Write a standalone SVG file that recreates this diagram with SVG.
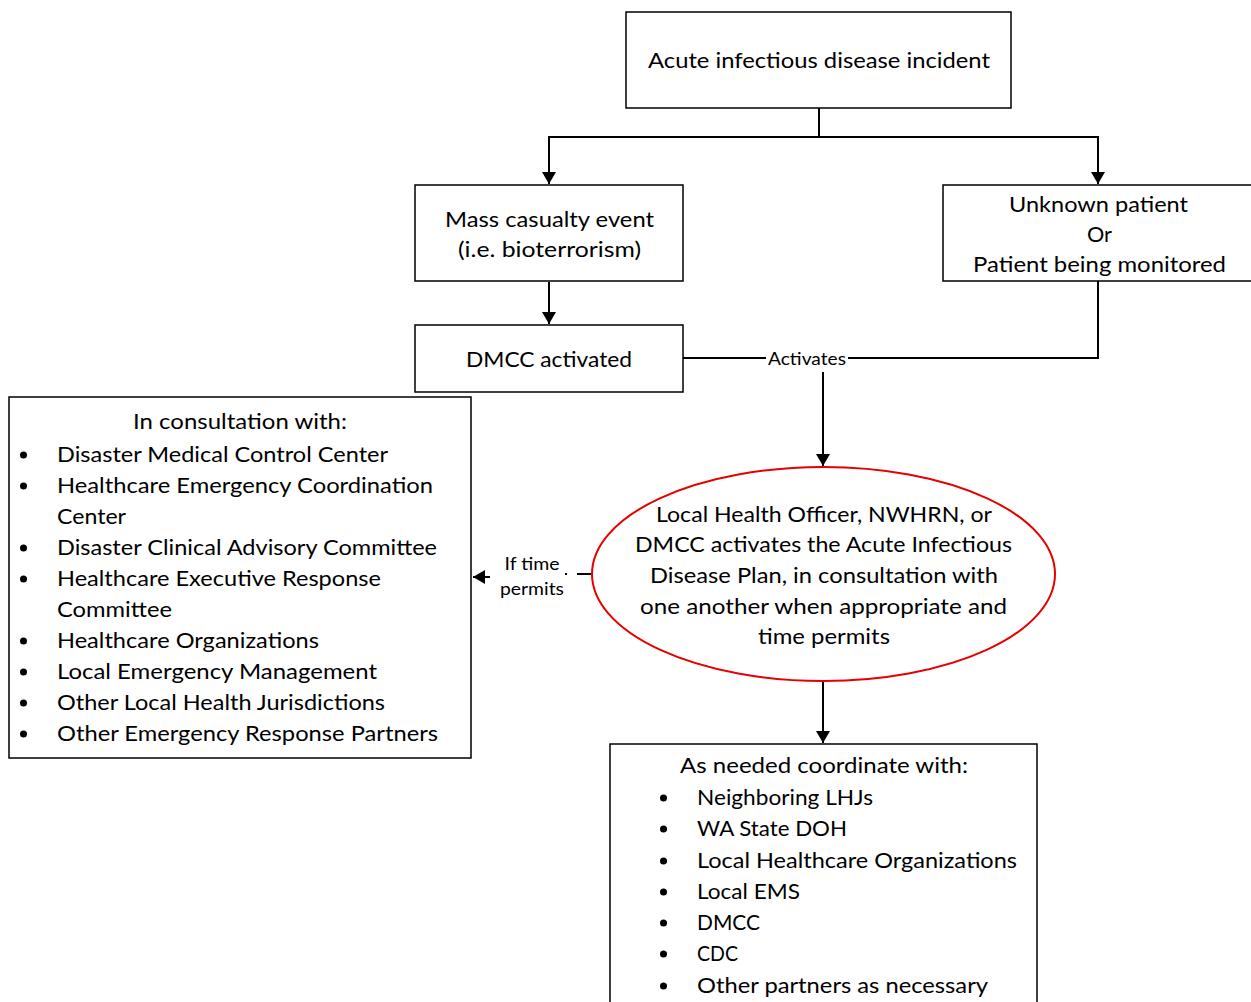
<svg xmlns="http://www.w3.org/2000/svg" width="1251" height="1002" viewBox="0 0 1251 1002">
<defs>
<marker id="arr" viewBox="0 0 12 14" refX="12" refY="7" markerWidth="12" markerHeight="14" markerUnits="userSpaceOnUse" orient="auto">
<path d="M0,0 L12,7 L0,14 z" fill="#000"/>
</marker>
</defs>
<style>
.box{fill:#fff;stroke:#000;stroke-width:1.5}
.ell{fill:#fff;stroke:#e60000;stroke-width:2}
.t{font-family:Lato,"Liberation Sans",sans-serif;font-size:22px;fill:#000}
.c{text-anchor:middle}
.s{font-family:Lato,"Liberation Sans",sans-serif;font-size:17px;fill:#000}
.ln{fill:none;stroke:#000;stroke-width:2}
.ar{fill:none;stroke:#000;stroke-width:2;marker-end:url(#arr)}
.bul{fill:#000}
</style>
<rect width="1251" height="1002" fill="#fff"/>

<g id="connectors">
<path class="ln" d="M819,108 V137"/>
<path class="ar" d="M819,137 H549 V184"/>
<path class="ar" d="M819,137 H1098 V184"/>
<path class="ar" d="M549,282 V324"/>
<path class="ln" d="M683,358 H1098 V281"/>
<path class="ar" d="M823,372 V466"/>
<path class="ln" d="M577,574 H592"/>
<path class="ln" d="M565,574 H567" stroke-width="1.5"/>
<path class="ar" d="M490,577 H473"/>
<path class="ar" d="M823,681 V743"/>
<rect x="766" y="348" width="82" height="20" fill="#fff"/>
<text class="s" x="768" y="365" textLength="78" lengthAdjust="spacingAndGlyphs">Activates</text>
<text class="s c" x="532" y="570" textLength="55" lengthAdjust="spacingAndGlyphs">If time</text>
<text class="s c" x="532" y="595" textLength="64" lengthAdjust="spacingAndGlyphs">permits</text>
</g>

<g id="node-incident">
<rect class="box" x="626" y="12" width="385" height="96"/>
<text class="t" x="648" y="68" textLength="342" lengthAdjust="spacingAndGlyphs">Acute infectious disease incident</text>
</g>

<g id="node-mass">
<rect class="box" x="415" y="185" width="268" height="96"/>
<text class="t" x="445" y="227" textLength="209" lengthAdjust="spacingAndGlyphs">Mass casualty event</text>
<text class="t" x="458" y="257" textLength="183" lengthAdjust="spacingAndGlyphs">(i.e. bioterrorism)</text>
</g>

<g id="node-unknown">
<rect class="box" x="943" y="185" width="320" height="96"/>
<text class="t" x="1009" y="212" textLength="179" lengthAdjust="spacingAndGlyphs">Unknown patient</text>
<text class="t" x="1087" y="242" textLength="25" lengthAdjust="spacingAndGlyphs">Or</text>
<text class="t" x="973" y="272" textLength="253" lengthAdjust="spacingAndGlyphs">Patient being monitored</text>
</g>

<g id="node-dmcc">
<rect class="box" x="415" y="325" width="268" height="67"/>
<text class="t" x="466" y="367" textLength="166" lengthAdjust="spacingAndGlyphs">DMCC activated</text>
</g>

<g id="node-plan">
<ellipse class="ell" cx="823.5" cy="574" rx="231.5" ry="107"/>
<text class="t" x="656" y="522" textLength="336" lengthAdjust="spacingAndGlyphs">Local Health Officer, NWHRN, or</text>
<text class="t" x="635" y="552" textLength="377" lengthAdjust="spacingAndGlyphs">DMCC activates the Acute Infectious</text>
<text class="t" x="650" y="583" textLength="348" lengthAdjust="spacingAndGlyphs">Disease Plan, in consultation with</text>
<text class="t" x="640" y="614" textLength="367" lengthAdjust="spacingAndGlyphs">one another when appropriate and</text>
<text class="t" x="758" y="644" textLength="132" lengthAdjust="spacingAndGlyphs">time permits</text>
</g>

<g id="node-consult">
<rect class="box" x="9" y="397" width="462" height="361"/>
<text class="t" x="133" y="429" textLength="214" lengthAdjust="spacingAndGlyphs">In consultation with:</text>
<g class="bul">
<circle cx="23.5" cy="455" r="3.5"/>
<circle cx="23.5" cy="486" r="3.5"/>
<circle cx="23.5" cy="548" r="3.5"/>
<circle cx="23.5" cy="579" r="3.5"/>
<circle cx="23.5" cy="641" r="3.5"/>
<circle cx="23.5" cy="672" r="3.5"/>
<circle cx="23.5" cy="703" r="3.5"/>
<circle cx="23.5" cy="734" r="3.5"/>
</g>
<text class="t" x="57" y="462" textLength="331" lengthAdjust="spacingAndGlyphs">Disaster Medical Control Center</text>
<text class="t" x="57" y="493" textLength="376" lengthAdjust="spacingAndGlyphs">Healthcare Emergency Coordination</text>
<text class="t" x="57" y="524" textLength="69" lengthAdjust="spacingAndGlyphs">Center</text>
<text class="t" x="57" y="555" textLength="380" lengthAdjust="spacingAndGlyphs">Disaster Clinical Advisory Committee</text>
<text class="t" x="57" y="586" textLength="324" lengthAdjust="spacingAndGlyphs">Healthcare Executive Response</text>
<text class="t" x="57" y="617" textLength="115" lengthAdjust="spacingAndGlyphs">Committee</text>
<text class="t" x="57" y="648" textLength="262" lengthAdjust="spacingAndGlyphs">Healthcare Organizations</text>
<text class="t" x="57" y="679" textLength="320" lengthAdjust="spacingAndGlyphs">Local Emergency Management</text>
<text class="t" x="57" y="710" textLength="328" lengthAdjust="spacingAndGlyphs">Other Local Health Jurisdictions</text>
<text class="t" x="57" y="741" textLength="381" lengthAdjust="spacingAndGlyphs">Other Emergency Response Partners</text>
</g>

<g id="node-coordinate">
<rect class="box" x="610" y="744" width="427" height="270"/>
<text class="t" x="680" y="773" textLength="288" lengthAdjust="spacingAndGlyphs">As needed coordinate with:</text>
<g class="bul">
<circle cx="663.5" cy="798" r="3.5"/>
<circle cx="663.5" cy="829" r="3.5"/>
<circle cx="663.5" cy="861" r="3.5"/>
<circle cx="663.5" cy="892" r="3.5"/>
<circle cx="663.5" cy="923" r="3.5"/>
<circle cx="663.5" cy="954" r="3.5"/>
<circle cx="663.5" cy="986" r="3.5"/>
</g>
<text class="t" x="697" y="805" textLength="176" lengthAdjust="spacingAndGlyphs">Neighboring LHJs</text>
<text class="t" x="697" y="836" textLength="150" lengthAdjust="spacingAndGlyphs">WA State DOH</text>
<text class="t" x="697" y="868" textLength="320" lengthAdjust="spacingAndGlyphs">Local Healthcare Organizations</text>
<text class="t" x="697" y="899" textLength="103" lengthAdjust="spacingAndGlyphs">Local EMS</text>
<text class="t" x="697" y="930" textLength="63" lengthAdjust="spacingAndGlyphs">DMCC</text>
<text class="t" x="697" y="961" textLength="41" lengthAdjust="spacingAndGlyphs">CDC</text>
<text class="t" x="697" y="993" textLength="291" lengthAdjust="spacingAndGlyphs">Other partners as necessary</text>
</g>
</svg>
